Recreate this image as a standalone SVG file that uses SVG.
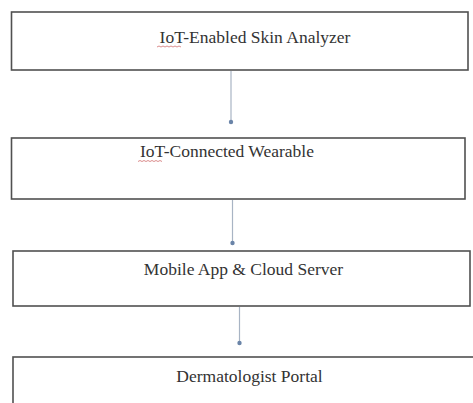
<svg xmlns="http://www.w3.org/2000/svg" width="473" height="403" viewBox="0 0 473 403">
<style>
.box{fill:#fff;stroke:#505050;stroke-width:1.6}
.lbl{font-family:"Liberation Serif","Times New Roman",serif;font-size:17.5px;fill:#333;text-anchor:middle}
.conn{stroke:#a8b4c4;stroke-width:1.2;fill:none}
.sq{stroke:#d07070;stroke-width:0.8;fill:none}
</style>
<defs>
<marker id="ah" markerWidth="6" markerHeight="6" refX="3" refY="3" orient="auto" markerUnits="userSpaceOnUse">
<circle cx="3" cy="3" r="2.2" fill="#6a84a8"/>
</marker>
</defs>
<rect width="473" height="403" fill="#fff"/>
<g id="connectors">
<line class="conn" x1="231" y1="71" x2="231" y2="122" marker-end="url(#ah)"/>
<line class="conn" x1="232.5" y1="200" x2="232.5" y2="243" marker-end="url(#ah)"/>
<line class="conn" x1="239.5" y1="307" x2="239.5" y2="343" marker-end="url(#ah)"/>
</g>
<g id="node1">
<rect class="box" x="11.5" y="12" width="456.5" height="58"/>
<text class="lbl" x="255" y="43">IoT-Enabled Skin Analyzer</text>
<path class="sq" d="M157 47 l2 -1 l2 1 l2 -1 l2 1 l2 -1 l2 1 l2 -1 l2 1 l2 -1 l2 1 l2 -1 l2 1"/>
</g>
<g id="node2">
<rect class="box" x="11.5" y="138" width="453.5" height="61"/>
<text class="lbl" x="227" y="157">IoT-Connected Wearable</text>
<path class="sq" d="M138 161.5 l2 -1 l2 1 l2 -1 l2 1 l2 -1 l2 1 l2 -1 l2 1 l2 -1 l2 1 l2 -1 l2 1"/>
</g>
<g id="node3">
<rect class="box" x="13" y="251" width="457" height="55"/>
<text class="lbl" x="243.5" y="275">Mobile App &amp; Cloud Server</text>
</g>
<g id="node4">
<rect class="box" x="13" y="357" width="470" height="60"/>
<text class="lbl" x="249.5" y="382">Dermatologist Portal</text>
</g>
</svg>
